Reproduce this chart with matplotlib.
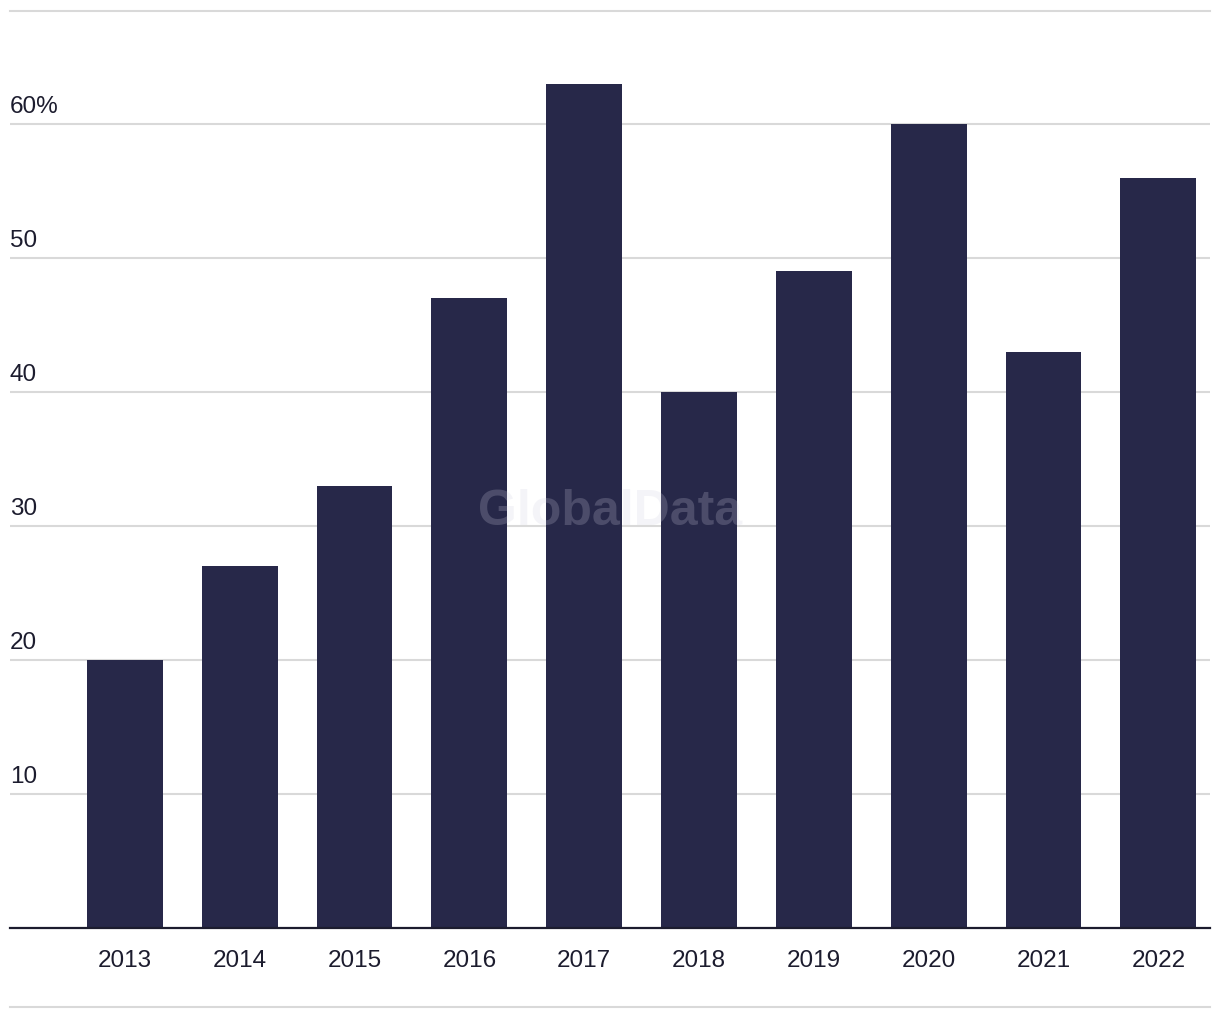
import matplotlib
matplotlib.use("Agg")
import matplotlib.pyplot as plt
from matplotlib.lines import Line2D
from matplotlib.transforms import blended_transform_factory

years = ["2013", "2014", "2015", "2016", "2017", "2018", "2019", "2020", "2021", "2022"]
values = [20, 27, 33, 47, 63, 40, 49, 60, 43, 56]
y_ticks = [10, 20, 30, 40, 50, 60]
y_labels = ["10", "20", "30", "40", "50", "60%"]

bar_color = "#272849"
text_color = "#1c1c2e"
grid_color = "#d9d9d9"

plt.rcParams["font.family"] = ["Liberation Sans", "DejaVu Sans"]

fig = plt.figure(figsize=(12.2, 10.2), dpi=100)
ax = fig.add_axes([10 / 1220, 1 - 929 / 1020, 1200 / 1220, (929 - 12) / 1020])

x = list(range(len(years)))
ax.bar(x, values, width=0.66, color=bar_color, zorder=3)

ax.set_xlim(-1.0, 9.45)
ax.set_ylim(0, 68.43)

ax.set_yticks(y_ticks)
ax.set_yticklabels([])
ax.tick_params(axis="y", length=0)
ax.grid(axis="y", color=grid_color, linewidth=1.5, zorder=0)

ax.set_xticks(x)
ax.set_xticklabels(years, fontsize=17.5, color=text_color)
ax.tick_params(axis="x", length=0, pad=15)

for side in ["left", "right"]:
    ax.spines[side].set_visible(False)
ax.spines["top"].set_color(grid_color)
ax.spines["top"].set_linewidth(1.5)
ax.spines["bottom"].set_color(text_color)
ax.spines["bottom"].set_linewidth(1.6)
ax.spines["bottom"].set_zorder(4)

trans = blended_transform_factory(ax.transAxes, ax.transData)
for v, lab in zip(y_ticks, y_labels):
    ax.annotate(lab, xy=(0, v), xycoords=trans, xytext=(0, 5),
                textcoords="offset points", ha="left", va="bottom",
                fontsize=17.5, color=text_color)

ax.text(0.5, 0.455, "GlobalData", transform=ax.transAxes, ha="center",
        va="center", fontsize=36, fontweight="bold", color="#d0d0e0",
        alpha=0.22, zorder=5)

fig.add_artist(Line2D([10 / 1220, 1210 / 1220], [1 - 1008 / 1020] * 2,
                      color=grid_color, linewidth=1.5))

fig.savefig("out.png", dpi=100)
